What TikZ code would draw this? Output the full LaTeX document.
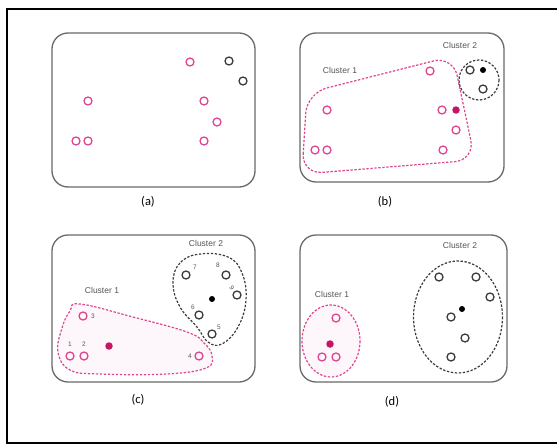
\documentclass[tikz,border=0pt]{standalone}
\usepackage{fontspec}
\setmainfont{Liberation Sans}
\newfontfamily\capfont{Carlito}
\begin{document}
\begin{tikzpicture}[x=1pt,y=-1pt,
  pt/.style={circle,draw=ptpink,line width=1.3pt,minimum size=8pt,inner sep=0pt},
  bpt/.style={circle,draw=ptdark,line width=1.3pt,minimum size=8pt,inner sep=0pt},
  pctr/.style={circle,fill=ctrpink,minimum size=7.5pt,inner sep=0pt},
  bctr/.style={circle,fill=black,minimum size=6pt,inner sep=0pt},
  panel/.style={draw=boxgray,line width=1.3pt,rounded corners=16pt},
  clab/.style={font=\fontsize{8.5}{9}\selectfont,text=labgray,inner sep=0pt},
  num/.style={font=\fontsize{6.5}{7}\selectfont,text=labgray,inner sep=0.5pt},
  sub/.style={font=\capfont\fontsize{12.5}{13}\selectfont,inner sep=0pt},
  pdash/.style={draw=ptpink,line width=1.2pt,dash pattern=on 2.4pt off 1.6pt},
  bdash/.style={draw=ptdark,line width=1.2pt,dash pattern=on 2.4pt off 1.6pt}]
\definecolor{ptpink}{RGB}{222,70,145}
\definecolor{ctrpink}{RGB}{200,20,100}
\definecolor{ptdark}{RGB}{60,60,60}
\definecolor{boxgray}{RGB}{105,105,105}
\definecolor{labgray}{RGB}{85,85,85}
\useasboundingbox (0,0) rectangle (557,447);
\begin{scope}
\clip (0,0) rectangle (557,447);
\draw[line width=2.8pt] (7,9) rectangle (570,443);
\end{scope}

% ---------- (a) raw points ----------
\draw[panel] (52,33) rectangle (255,187);
\node[sub] (la) at (148,202) {(a)};
\node[pt] (a1) at (190,62) {};
\node[pt] (a2) at (88,101) {};
\node[pt] (a3) at (204,101) {};
\node[pt] (a4) at (217,122) {};
\node[pt] (a5) at (76,141) {};
\node[pt] (a6) at (88,141) {};
\node[pt] (a7) at (204,141) {};
\node[bpt] (a8) at (229,61) {};
\node[bpt] (a9) at (243,81) {};

% ---------- (b) first assignment ----------
\draw[panel] (300,33) rectangle (504,182);
\node[sub] (lb) at (385,202) {(b)};
\draw[pdash,rounded corners=20pt] (302,174) -- (307,93) -- (453,56) -- (475,160) -- cycle;
\draw[bdash] (479,80) ellipse (20 and 20);
\node[clab] (b1l) at (340,70) {Cluster 1};
\node[clab] (b2l) at (460,45) {Cluster 2};
\node[pt] (b1) at (430,71) {};
\node[pt] (b2) at (327,110) {};
\node[pt] (b3) at (442,110) {};
\node[pctr] (bc1) at (456,110) {};
\node[pt] (b4) at (456,130) {};
\node[pt] (b5) at (315,150) {};
\node[pt] (b6) at (327,150) {};
\node[pt] (b7) at (443,150) {};
\node[bpt] (b8) at (470,70) {};
\node[bctr] (bc2) at (483,70) {};
\node[bpt] (b9) at (483,89) {};

% ---------- (c) reassignment ----------
\draw[panel] (52,235) rectangle (255,382);
\node[sub] (lc) at (138,400) {(c)};
\draw[pdash,fill=ptpink!5] plot[smooth cycle,tension=0.7] coordinates {
  (80,304) (133,317) (187,332) (204,343) (212,356) (206,368)
  (167,374) (100,374) (70,370) (58,352) (62,328) (70,311)};
\draw[bdash] plot[smooth cycle,tension=0.7] coordinates {
  (200,254) (180,263) (173,283) (180,307) (197,327) (208,342)
  (222,344) (238,327) (246,300) (242,273) (228,257)};
\node[clab] (c1l) at (102,290) {Cluster 1};
\node[clab] (c2l) at (206,243) {Cluster 2};
\node[pt] (c3) at (83,316) {};
\node[pt] (c1) at (70,356) {};
\node[pt] (c2) at (84,356) {};
\node[pctr] (cc1) at (109,346) {};
\node[pt] (c4) at (199,356) {};
\node[num] at (93,316) {3};
\node[num] at (70,344) {1};
\node[num] at (84,344) {2};
\node[num] at (190,356) {4};
\node[bpt] (c7) at (186,275) {};
\node[bpt] (c8) at (226,275) {};
\node[bpt] (c9) at (237,295) {};
\node[bctr] (cc2) at (212,299) {};
\node[bpt] (c6) at (199,315) {};
\node[bpt] (c5) at (212,334) {};
\node[num] at (195,267) {7};
\node[num] at (218,265) {8};
\node[num,rotate=-60] at (232,288) {9};
\node[num] at (193,307) {6};
\node[num] at (219,327) {5};

% ---------- (d) final clusters ----------
\draw[panel] (300,235) rectangle (507,382);
\node[sub] (ld) at (392,402) {(d)};
\draw[pdash,fill=ptpink!5] (331,341) ellipse (29 and 36);
\draw[bdash] (458,317) ellipse (44.5 and 56);
\node[clab] (d1l) at (332,294) {Cluster 1};
\node[clab] (d2l) at (460,245) {Cluster 2};
\node[pt] (d1) at (336,318) {};
\node[pctr] (dc1) at (330,344) {};
\node[pt] (d2) at (322,357) {};
\node[pt] (d3) at (336,357) {};
\node[bpt] (d4) at (439,277) {};
\node[bpt] (d5) at (476,277) {};
\node[bpt] (d6) at (490,297) {};
\node[bctr] (dc2) at (462,309) {};
\node[bpt] (d7) at (451,317) {};
\node[bpt] (d8) at (465,338) {};
\node[bpt] (d9) at (451,357) {};
\end{tikzpicture}
\end{document}
